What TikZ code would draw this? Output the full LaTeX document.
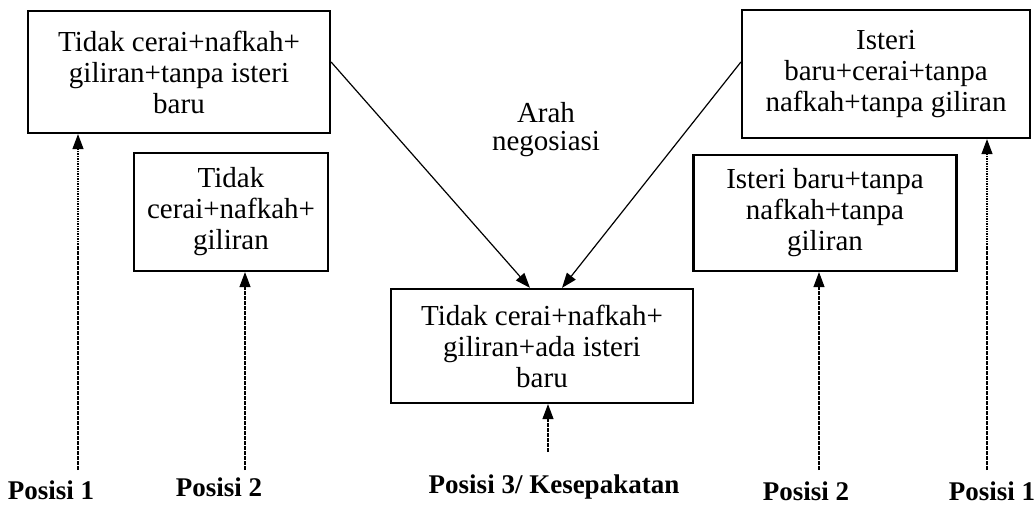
\documentclass[tikz,border=0pt]{standalone}
\usepackage{fontspec}
\setmainfont{Liberation Serif}
\usetikzlibrary{arrows.meta,positioning}

\begin{document}
\begin{tikzpicture}[x=1pt,y=-1pt,
box/.style={rectangle,draw,line width=2.2pt,align=center,inner sep=0pt,
font=\fontsize{29}{31}\selectfont},
arrow/.style={-{Triangle[length=15pt,width=11pt]},line width=1.2pt},
posarrow/.style={-{Triangle[length=15pt,width=11pt]},line width=1.1pt,
dash pattern=on 1.6pt off 0.9pt},
posisi/.style={font=\bfseries\fontsize{27}{30}\selectfont}]
\useasboundingbox (0,0) rectangle (1035,510);
% kotak posisi
\node[box,minimum width=302pt,minimum height=122pt] (tanpaisteri) at (179,72)
{Tidak cerai+nafkah+\\giliran+tanpa isteri\\baru};
\node[box,minimum width=194pt,minimum height=118pt] (tidakcerai) at (231,212)
{Tidak\\cerai+nafkah+\\giliran};
\node[box,minimum width=302pt,minimum height=114pt] (adaisteri) at (542,346)
{Tidak cerai+nafkah+\\giliran+ada isteri\\baru};
\node[box,minimum width=288pt,minimum height=128pt] (cerai) at (886,74)
{Isteri\\baru+cerai+tanpa\\nafkah+tanpa giliran};
\node[box,minimum width=263pt,minimum height=116pt] (tanpanafkah) at (825,213)
{Isteri baru+tanpa\\nafkah+tanpa\\giliran};
\node[font=\fontsize{29}{28}\selectfont,align=center] (arah) at (546,130) {Arah\\negosiasi};
% label posisi
\node[posisi] (kiri1) at (51,490) {Posisi 1};
\node[posisi] (kiri2) at (219,487) {Posisi 2};
\node[posisi] (sepakat) at (554,487) {Posisi 3/ Kesepakatan};
\node[posisi] (kanan2) at (806,491) {Posisi 2};
\node[posisi] (kanan1) at (992,491) {Posisi 1};
\coordinate (a1) at (78,470);
\coordinate (a2) at (245,470);
\coordinate (a3) at (548,452);
\coordinate (a4) at (819,470);
\coordinate (a5) at (987,470);
% panah negosiasi
\draw[arrow] ([yshift=10pt]tanpaisteri.east) -- ([xshift=-12pt]adaisteri.north);
\draw[arrow] ([yshift=12pt]cerai.west) -- ([xshift=20pt]adaisteri.north);
% panah titik
\draw[posarrow] (a1) -- (a1 |- tanpaisteri.south);
\draw[posarrow] (a2) -- (a2 |- tidakcerai.south);
\draw[posarrow] (a3) -- (a3 |- adaisteri.south);
\draw[posarrow] (a4) -- (a4 |- tanpanafkah.south);
\draw[posarrow] (a5) -- (a5 |- cerai.south);
\end{tikzpicture}
\end{document}
